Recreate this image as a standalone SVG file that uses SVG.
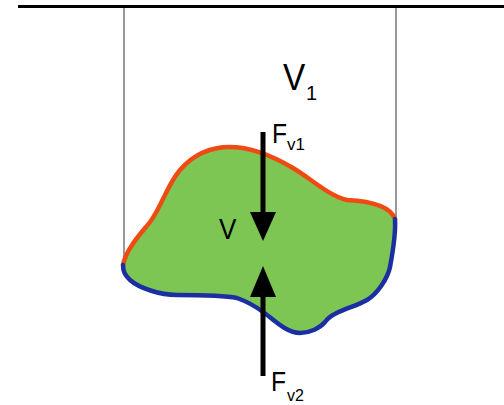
<svg xmlns="http://www.w3.org/2000/svg" width="504" height="405" viewBox="0 0 504 405">
<style>
.t{font-family:"Liberation Sans",Arial,sans-serif;fill:#000}
.thin{stroke:#555;stroke-width:1.2;fill:none}
.shaft{stroke:#000;stroke-width:5;fill:none}
.edge{fill:none;stroke-width:4.5;stroke-linecap:round}
</style>
<rect width="504" height="405" fill="#fff"/>
<g id="surface"><line x1="18" y1="6.5" x2="504" y2="6.5" stroke="#000" stroke-width="3"/></g>
<g id="walls">
<line class="thin" x1="124" y1="8" x2="124" y2="262"/>
<line class="thin" x1="396" y1="8" x2="396" y2="217"/>
</g>
<g id="blob">
<path fill="#7dc653" d="M123,265 C126,248 144,230 150,222 C162,206 167,185 180,170 C193,155 210,147 230,147 C252,147 276,158 293,168 C310,178 329,196 347,200 C367,201 390,205 395,219 C396,235 393,251 390,267 C387.5,279 377,294 367,300 C353,308 333,311 325,322 C320,328 310,333 300,333 C286,333 273,319 263,312 C255,306 244,300.5 237,298 C225,295.5 195,295 177,295 C160,295 139,288 130,280 C125,275 123,272 123,265 Z"/>
<path class="edge" stroke="#f04a14" d="M123,265 C126,248 144,230 150,222 C162,206 167,185 180,170 C193,155 210,147 230,147 C252,147 276,158 293,168 C310,178 329,196 347,200 C367,201 390,205 395,219"/>
<path class="edge" stroke="#1c2fa2" d="M395,219 C396,235 393,251 390,267 C387.5,279 377,294 367,300 C353,308 333,311 325,322 C320,328 310,333 300,333 C286,333 273,319 263,312 C255,306 244,300.5 237,298 C225,295.5 195,295 177,295 C160,295 139,288 130,280 C125,275 123,272 123,265"/>
</g>
<g id="connectors">
<line class="shaft" x1="263" y1="132" x2="263" y2="214"/>
<polygon points="250,212 276,212 263,241" fill="#000"/>
<line class="shaft" x1="263" y1="295" x2="263" y2="376"/>
<polygon points="250,297 276,297 263,266" fill="#000"/>
</g>
<g id="label-V1"><text class="t" font-size="37.5" transform="translate(283 90) scale(0.89 1)">V</text><text class="t" x="306" y="100" font-size="20">1</text></g>
<g id="label-Fv1"><text class="t" font-size="28" transform="translate(272 143) scale(0.88 1)">F</text><text class="t" x="287" y="150" font-size="17">v1</text></g>
<g id="label-V"><text class="t" font-size="29" transform="translate(219 239) scale(0.9 1)">V</text></g>
<g id="label-Fv2"><text class="t" font-size="28" transform="translate(271 391) scale(0.88 1)">F</text><text class="t" x="287" y="400.5" font-size="16">v2</text></g>
</svg>
